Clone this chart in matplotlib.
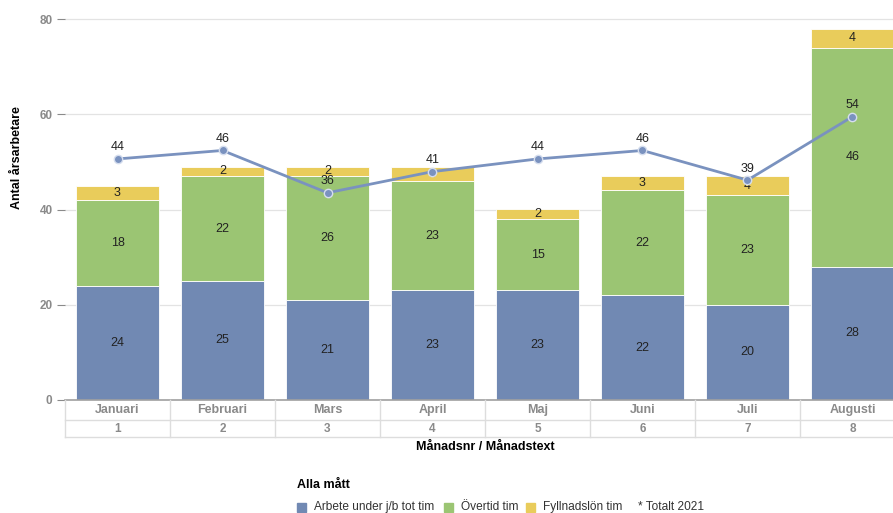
import numpy as np
import matplotlib.pyplot as plt
from matplotlib.patches import Rectangle
from matplotlib.lines import Line2D
import matplotlib.transforms as mtransforms

plt.rcParams['font.family'] = ['Liberation Sans', 'DejaVu Sans']

# data
months = ['Januari', 'Februari', 'Mars', 'April', 'Maj', 'Juni', 'Juli', 'Augusti']
month_nr = ['1', '2', '3', '4', '5', '6', '7', '8']
arbete = [24, 25, 21, 23, 23, 22, 20, 28]
overtid = [18, 22, 26, 23, 15, 22, 23, 46]
fyllnad = [3, 2, 2, 3, 2, 3, 4, 4]
totalt_2021 = [44, 46, 36, 41, 44, 46, 39, 54]

c_blue = '#7189B3'
c_green = '#9BC573'
c_yellow = '#E9CC5B'
c_line = '#7A92BF'
c_gray = '#8A8A8A'

W, H = 893, 513
fig = plt.figure(figsize=(W / 100, H / 100), dpi=100)

# axes placed in pixel terms (plot area runs past the right edge like the original)
px_left, px_right, px_zero, px_80 = 65, 905, 400, 19
scale = (px_zero - px_80) / 80
ytop = 82
ax = fig.add_axes([px_left / W, 1 - px_zero / H,
                   (px_right - px_left) / W, ytop * scale / H])
ax.set_xlim(-0.5, len(months) - 0.5)
ax.set_ylim(0, ytop)

x = np.arange(len(months))
bw = 0.79
bottom = np.zeros(len(months))
for vals, col in [(arbete, c_blue), (overtid, c_green), (fyllnad, c_yellow)]:
    bars = ax.bar(x, vals, bw, bottom=bottom, color=col, edgecolor='white',
                  linewidth=0.6, zorder=2)
    for b, v, b0 in zip(bars, vals, bottom):
        ax.text(b.get_x() + b.get_width() / 2, b0 + v / 2, str(v),
                ha='center', va='center', fontsize=9, color='#222222', zorder=3)
    bottom = bottom + np.array(vals)

ax.set_yticks([0, 20, 40, 60, 80])
ax.set_yticklabels(['0', '20', '40', '60', '80'], fontsize=8.5,
                   fontweight='bold', color=c_gray)
ax.tick_params(axis='y', length=6, color=c_gray, pad=3, width=0.8)
ax.set_xticks([])
ax.grid(axis='y', color='#E3E3E3', linewidth=0.9, zorder=0)
ax.set_axisbelow(True)
for s in ['top', 'right', 'left']:
    ax.spines[s].set_visible(False)
ax.spines['bottom'].set_color('#A0A0A0')
ax.spines['bottom'].set_linewidth(1.2)
ax.set_ylabel('Antal årsarbetare', fontsize=9, fontweight='bold', labelpad=14)
ax.yaxis.set_label_coords(-0.05, 0.62)

# line on hidden secondary axis
ax2 = ax.twinx()
slope, icpt = 0.889, 11.5
ax2.set_ylim((0 - icpt) / slope, (ytop - icpt) / slope)
ax2.axis('off')
ax2.plot(x, totalt_2021, color=c_line, lw=2, marker='o', markersize=6,
         markerfacecolor=c_line, markeredgecolor='#D6DEEE', markeredgewidth=1,
         zorder=4)
for xi, v in zip(x, totalt_2021):
    ax2.annotate(str(v), (xi, v), xytext=(0, 4), textcoords='offset points',
                 ha='center', va='bottom', fontsize=9, color='#222222')

# category table under the axis
tr = mtransforms.blended_transform_factory(ax.transData, fig.transFigure)
def fy(px):
    return 1 - px / H

row1, row2 = 420, 437
for yy in [row1, row2]:
    fig.add_artist(Line2D([px_left / W, px_right / W], [fy(yy), fy(yy)],
                          color='#DDDDDD', lw=1))
for k in range(len(months) + 1):
    fig.add_artist(Line2D([k - 0.5, k - 0.5], [fy(px_zero), fy(row2)],
                          color='#DDDDDD', lw=1, transform=tr))
for xi, m, n in zip(x, months, month_nr):
    fig.text(xi, fy(410), m, transform=tr, ha='center', va='center',
             fontsize=9, fontweight='bold', color=c_gray)
    fig.text(xi, fy(429), n, transform=tr, ha='center', va='center',
             fontsize=8.5, fontweight='bold', color=c_gray)

fig.text(485 / W, fy(447), 'Månadsnr / Månadstext', ha='center', va='center',
         fontsize=9, fontweight='bold', color='black')

# legend
fig.text(297 / W, fy(485), 'Alla mått', ha='left', va='center',
         fontsize=9, fontweight='bold', color='black')
legend_items = [('Arbete under j/b tot tim', c_blue, 297),
                ('Övertid tim', c_green, 444),
                ('Fyllnadslön tim', c_yellow, 526)]
for label, col, px in legend_items:
    fig.add_artist(Rectangle((px / W, fy(512)), 9 / W, 9 / H,
                             transform=fig.transFigure, color=col))
    fig.text((px + 17) / W, fy(507), label, ha='left', va='center',
             fontsize=8.6, color='#333333')
fig.text(638 / W, fy(507), '* Totalt 2021', ha='left', va='center',
         fontsize=8.6, color='#333333')

fig.savefig('out.png', dpi=100)
